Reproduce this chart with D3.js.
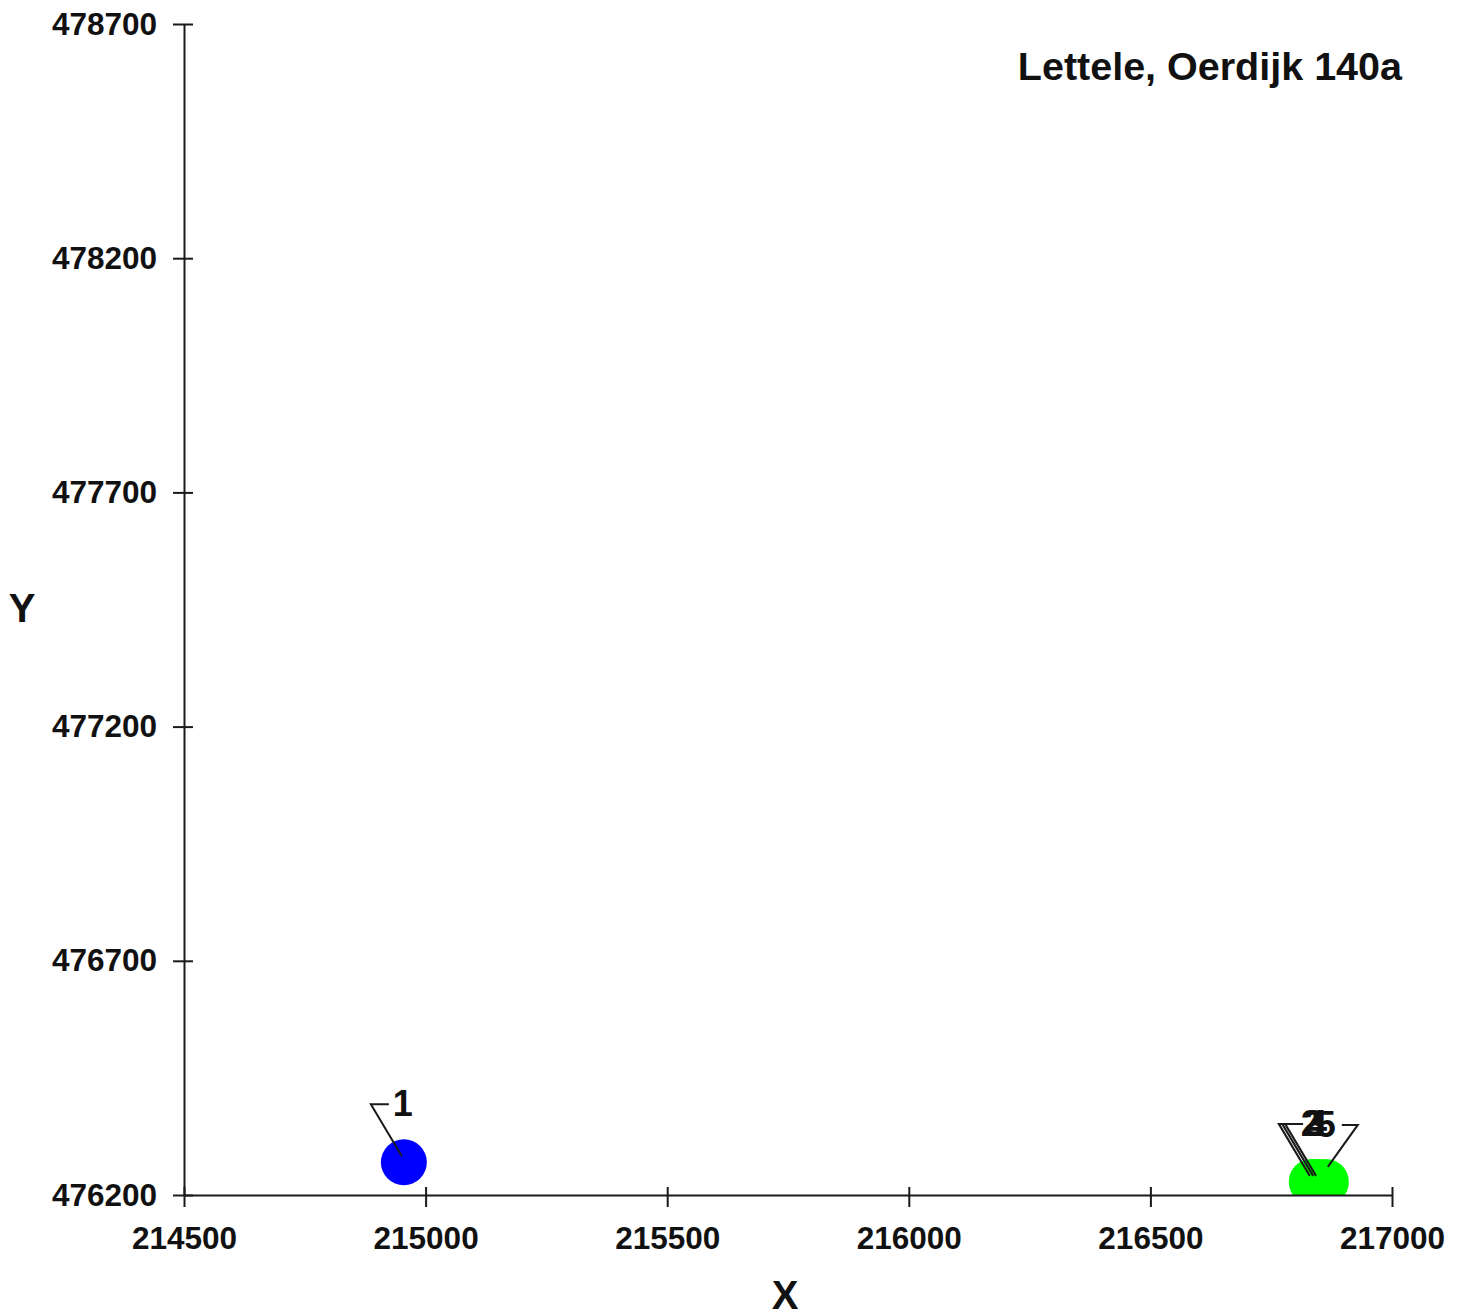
<!DOCTYPE html>
<html>
<head>
<meta charset="utf-8">
<script src="https://cdn.jsdelivr.net/npm/d3@7"></script>
<style>
  html, body { margin: 0; padding: 0; background: #fff; }
  svg { display: block; font-family: "Liberation Sans", Arial, sans-serif; font-weight: bold; }
</style>
</head>
<body>
<svg id="chart" width="1464" height="1314"></svg>
<script>
// ---- data ----
const title = "Lettele, Oerdijk 140a";
const xTitle = "X";
const yTitle = "Y";
const xTicks = [214500, 215000, 215500, 216000, 216500, 217000];
const yTicks = [476200, 476700, 477200, 477700, 478200, 478700];
const pointLabels = ["1", "2", "3", "4", "5"];
const pointX = [214955, 216834, 216841, 216847, 216863];
const pointY = [476270, 476228, 476228, 476228, 476228];
const pointGroup = ["a", "b", "b", "b", "b"];
const labelSide = ["left", "left", "left", "left", "right"];

// ---- layout ----
const svg = d3.select("#chart");
const x = d3.scaleLinear().domain([214500, 217000]).range([184, 1392]);
const y = d3.scaleLinear().domain([476200, 478700]).range([1195, 24]);
const color = d3.scaleOrdinal().domain(["a", "b"]).range(["#0000ff", "#00ff00"]);
const ink = "#1a1a1a";

// clip to plot area
svg.append("clipPath").attr("id", "plotclip")
  .append("rect").attr("x", 184).attr("y", 0).attr("width", 1392 - 184).attr("height", 1195);

// points
const pts = pointX.map((d, i) => ({x: d, y: pointY[i], label: pointLabels[i], g: pointGroup[i], side: labelSide[i]}));

svg.append("g").attr("clip-path", "url(#plotclip)")
  .selectAll("circle").data(pts).join("circle")
  .attr("cx", d => x(d.x)).attr("cy", d => y(d.y)).attr("r", 23)
  .attr("fill", d => color(d.g));

// axes
const xAxis = svg.append("g").attr("transform", "translate(0,1195)")
  .call(d3.axisBottom(x).tickValues(xTicks).tickFormat(d3.format("d")).tickSize(12).tickPadding(20).tickSizeOuter(0));
xAxis.selectAll(".tick line").attr("y1", -8);
const yAxis = svg.append("g").attr("transform", "translate(184,0)")
  .call(d3.axisLeft(y).tickValues(yTicks).tickFormat(d3.format("d")).tickSize(11).tickPadding(16).tickSizeOuter(0));
yAxis.selectAll(".tick line").attr("x1", 9);
[xAxis, yAxis].forEach(a => {
  a.select(".domain").attr("stroke", ink).attr("stroke-width", 2);
  a.selectAll(".tick line").attr("stroke", ink).attr("stroke-width", 2);
  a.selectAll("text").attr("font-size", 31.5).attr("font-weight", "bold")
    .attr("fill", "#111").attr("font-family", "Liberation Sans, Arial, sans-serif");
});

// leaders & labels
const lg = svg.append("g");
pts.forEach(d => {
  const cx = x(d.x), cy = y(d.y);
  if (d.side === "left") {
    const kx = cx - 33, ky = cy - 58;
    lg.append("polyline")
      .attr("points", `${cx - 2},${cy - 6} ${kx},${ky} ${kx + 18},${ky}`)
      .attr("fill", "none").attr("stroke", ink).attr("stroke-width", 2);
    lg.append("text").attr("x", kx + 22).attr("y", ky + 12)
      .attr("font-size", 36).attr("fill", "#111").text(d.label);
  } else {
    const kx = cx + 32, ky = cy - 57;
    lg.append("polyline")
      .attr("points", `${cx + 2},${cy - 15} ${kx},${ky} ${kx - 16},${ky}`)
      .attr("fill", "none").attr("stroke", ink).attr("stroke-width", 2);
    lg.append("text").attr("x", kx - 22).attr("y", ky + 12).attr("text-anchor", "end")
      .attr("font-size", 36).attr("fill", "#111").text(d.label);
  }
});

// titles
svg.append("text").attr("x", 1402).attr("y", 80).attr("text-anchor", "end")
  .attr("font-size", 39.5).attr("fill", "#111").text(title);
svg.append("text").attr("x", 785).attr("y", 1309).attr("text-anchor", "middle")
  .attr("font-size", 40).attr("fill", "#111").text(xTitle);
svg.append("text").attr("x", 22).attr("y", 622).attr("text-anchor", "middle")
  .attr("font-size", 40).attr("fill", "#111").text(yTitle);
</script>
</body>
</html>
